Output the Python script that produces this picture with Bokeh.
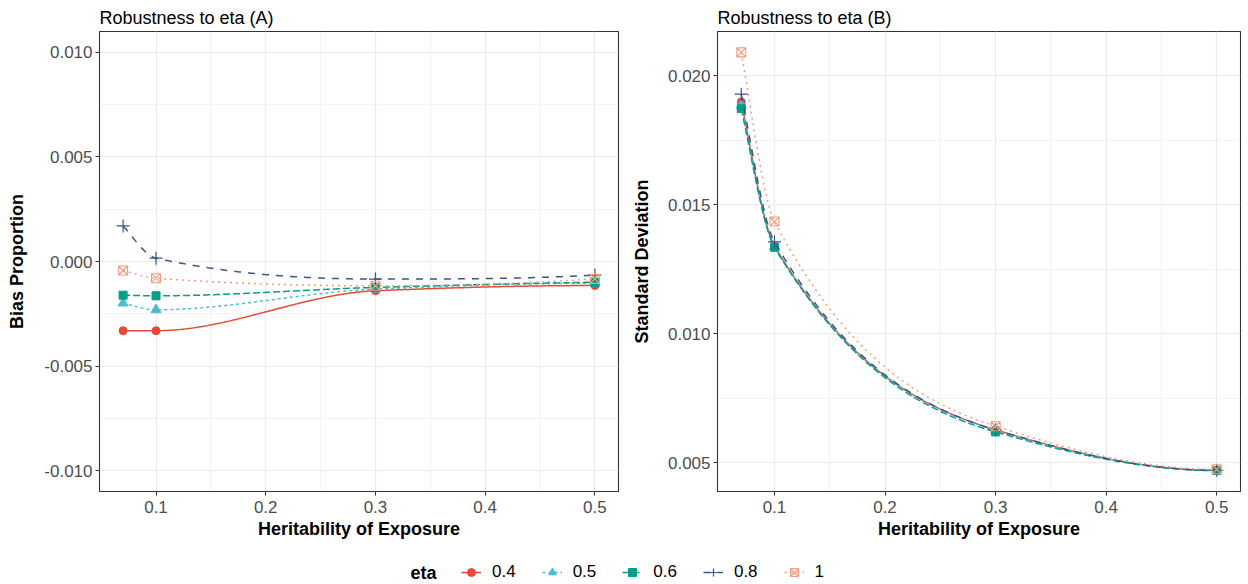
import numpy as np
from bokeh.plotting import figure
from bokeh.models import (Range1d, FixedTicker, NumeralTickFormatter, Legend,
                          LegendItem, Label, Title)
from bokeh.layouts import column, row
from bokeh.embed import file_html
from bokeh.resources import INLINE

# ---------------- data ----------------
heritability = [0.07, 0.1, 0.3, 0.5]
eta_levels = ["0.4", "0.5", "0.6", "0.8", "1"]

bias_eta_04 = [-0.00331, -0.00331, -0.00140, -0.00115]
bias_eta_05 = [-0.00199, -0.00231, -0.00132, -0.00104]
bias_eta_06 = [-0.00161, -0.00164, -0.00124, -0.00099]
bias_eta_08 = [0.00170, 0.00016, -0.00084, -0.00065]
bias_eta_1 = [-0.00043, -0.00080, -0.00116, -0.00083]

sd_eta_04 = [0.01899, 0.01340, 0.00627, 0.00470]
sd_eta_05 = [0.01885, 0.01338, 0.00626, 0.00470]
sd_eta_06 = [0.01873, 0.01335, 0.00619, 0.00469]
sd_eta_08 = [0.01929, 0.01356, 0.00627, 0.00470]
sd_eta_1 = [0.02091, 0.01435, 0.00641, 0.00474]

x_ticks = [0.1, 0.2, 0.3, 0.4, 0.5]
x_minor_ticks = [0.15, 0.25, 0.35, 0.45]
bias_ticks = [-0.010, -0.005, 0.0, 0.005, 0.010]
bias_minor_ticks = [-0.0075, -0.0025, 0.0025, 0.0075]
bias_limits = [-0.010, 0.010]
sd_ticks = [0.005, 0.010, 0.015, 0.020]
sd_minor_ticks = [0.0075, 0.0125, 0.0175]

bias_series = [bias_eta_04, bias_eta_05, bias_eta_06, bias_eta_08, bias_eta_1]
sd_series = [sd_eta_04, sd_eta_05, sd_eta_06, sd_eta_08, sd_eta_1]

# ---------------- styles ----------------
colors = ["#E64B35", "#4DBBD5", "#00A087", "#3C5488", "#F39B7F"]
dashes = ["solid", "3 3", "7 3", "7 7", "2 4"]
markers = ["circle", "triangle", "square", "cross", "square_x"]
msizes = [8, 10, 8, 13, 9]
FONT = "Liberation Sans"


def smooth_curve(x, y, n=300):
    """Shape-preserving (PCHIP) cubic Hermite curve through the points."""
    x = np.asarray(x, float)
    y = np.asarray(y, float)
    h = np.diff(x)
    s = np.diff(y) / h
    k = len(x)
    d = np.zeros(k)
    for i in range(1, k - 1):
        if s[i - 1] * s[i] > 0:
            w1 = 2 * h[i] + h[i - 1]
            w2 = h[i] + 2 * h[i - 1]
            d[i] = (w1 + w2) / (w1 / s[i - 1] + w2 / s[i])

    def end_slope(h0, h1, m0, m1):
        e = ((2 * h0 + h1) * m0 - h0 * m1) / (h0 + h1)
        if np.sign(e) != np.sign(m0):
            e = 0.0
        elif np.sign(m0) != np.sign(m1) and abs(e) > abs(3 * m0):
            e = 3 * m0
        return e

    d[0] = end_slope(h[0], h[1], s[0], s[1])
    d[-1] = end_slope(h[-1], h[-2], s[-1], s[-2])

    xs = np.linspace(x[0], x[-1], n)
    idx = np.clip(np.searchsorted(x, xs, side="right") - 1, 0, k - 2)
    hh = h[idx]
    t = (xs - x[idx]) / hh
    h00 = 2 * t ** 3 - 3 * t ** 2 + 1
    h10 = t ** 3 - 2 * t ** 2 + t
    h01 = -2 * t ** 3 + 3 * t ** 2
    h11 = t ** 3 - t ** 2
    ys = h00 * y[idx] + h10 * hh * d[idx] + h01 * y[idx + 1] + h11 * hh * d[idx + 1]
    return xs, ys


def expand(lo, hi, f=0.05):
    r = hi - lo
    return lo - f * r, hi + f * r


xr = expand(min(heritability), max(heritability))


def add_series(p, xv, yv, col, dash, mk, ms, curve=True):
    if curve:
        xs, ys = smooth_curve(xv, yv)
        lr = p.line(xs, ys, line_color=col, line_width=1.5, line_dash=dash)
    else:
        lr = p.line(xv, yv, line_color=col, line_width=1.5, line_dash=dash)
    if mk == "square_x":
        sr = p.scatter(xv, yv, marker=mk, size=ms, fill_color=None,
                       line_color=col, line_width=1.1)
    elif mk == "cross":
        sr = p.scatter(xv, yv, marker=mk, size=ms, line_color=col,
                       line_width=1.2)
    else:
        sr = p.scatter(xv, yv, marker=mk, size=ms, fill_color=col,
                       line_color=col)
    return lr, sr


def make_panel(title, ylabel, series, ylim, yticks, yminor, width,
               border_left, border_right, ylab_standoff):
    p = figure(width=width, height=548, output_backend="svg",
               toolbar_location=None,
               x_range=Range1d(*xr), y_range=Range1d(*ylim),
               min_border_left=border_left, min_border_right=border_right,
               min_border_top=31, min_border_bottom=57)
    t = Title(text=title, align="left", text_font=FONT,
              text_font_size="18px", text_font_style="normal",
              text_color="black", standoff=7, offset=0)
    p.add_layout(t, "above")
    p.background_fill_color = "white"
    p.border_fill_color = "white"
    p.outline_line_color = "#333333"
    p.outline_line_width = 1.1

    p.xaxis.ticker = FixedTicker(ticks=x_ticks, minor_ticks=x_minor_ticks)
    p.yaxis.ticker = FixedTicker(ticks=yticks, minor_ticks=yminor)
    p.xaxis.formatter = NumeralTickFormatter(format="0.0")
    p.yaxis.formatter = NumeralTickFormatter(format="0.000")
    for ax in (p.xaxis, p.yaxis):
        ax.axis_line_color = None
        ax.major_tick_line_color = "#333333"
        ax.major_tick_line_width = 1.1
        ax.major_tick_out = 4
        ax.major_tick_in = 0
        ax.minor_tick_line_color = None
        ax.major_label_text_font = FONT
        ax.major_label_text_font_size = "17px"
        ax.major_label_text_color = "#4D4D4D"
        ax.major_label_standoff = 3
        ax.axis_label_text_font = FONT
        ax.axis_label_text_font_size = "18px"
        ax.axis_label_text_font_style = "bold"
        ax.axis_label_text_color = "black"
    p.xaxis.major_label_standoff = 5
    p.xaxis.axis_label_standoff = 3
    p.yaxis.axis_label_standoff = ylab_standoff
    p.xaxis.axis_label = "Heritability of Exposure"
    p.yaxis.axis_label = ylabel

    p.grid.grid_line_color = "#EBEBEB"
    p.grid.grid_line_width = 1.2
    p.grid.minor_grid_line_color = "#EBEBEB"
    p.grid.minor_grid_line_width = 0.6

    for vals, col, dash, mk, ms in zip(series, colors, dashes, markers, msizes):
        add_series(p, heritability, vals, col, dash, mk, ms)
    return p


pA = make_panel("Robustness to eta (A)", "Bias Proportion", bias_series,
                expand(*bias_limits), bias_ticks, bias_minor_ticks,
                width=627, border_left=99, border_right=9, ylab_standoff=14)

sd_all = [v for s in sd_series for v in s]
pB = make_panel("Robustness to eta (B)", "Standard Deviation", sd_series,
                expand(min(sd_all), max(sd_all)), sd_ticks, sd_minor_ticks,
                width=621, border_left=90, border_right=8, ylab_standoff=13)

# ---------------- legend strip ----------------
# legend renderers hold the real data, but the strip's y range keeps them
# out of view so only the legend keys show
pL = figure(width=1248, height=36, output_backend="svg", toolbar_location=None,
            x_axis_type=None, y_axis_type=None, min_border=0,
            x_range=Range1d(0, 1), y_range=Range1d(1, 2))
pL.outline_line_color = None
pL.background_fill_color = "white"
pL.border_fill_color = "white"

items = []
for lab, vals, col, dash, mk, ms in zip(eta_levels, bias_series, colors,
                                        dashes, markers, msizes):
    lr, sr = add_series(pL, heritability, vals, col, dash, mk, ms, curve=False)
    items.append(LegendItem(label=lab, renderers=[lr, sr]))

leg = Legend(items=items, orientation="horizontal", location=(461, 2),
             glyph_width=20, glyph_height=20, label_height=20,
             label_standoff=11, spacing=26, padding=0, margin=0,
             border_line_color=None, background_fill_alpha=0,
             label_text_font=FONT, label_text_font_size="17px",
             label_text_color="black")
pL.add_layout(leg, "center")
pL.add_layout(Label(x=410, y=12, x_units="screen", y_units="screen",
                    text="eta", text_font=FONT, text_font_size="18px",
                    text_font_style="bold", text_baseline="middle",
                    text_color="black"))

layout = column(row(pA, pB), pL)
open("out.html", "w").write(file_html(layout, INLINE))
